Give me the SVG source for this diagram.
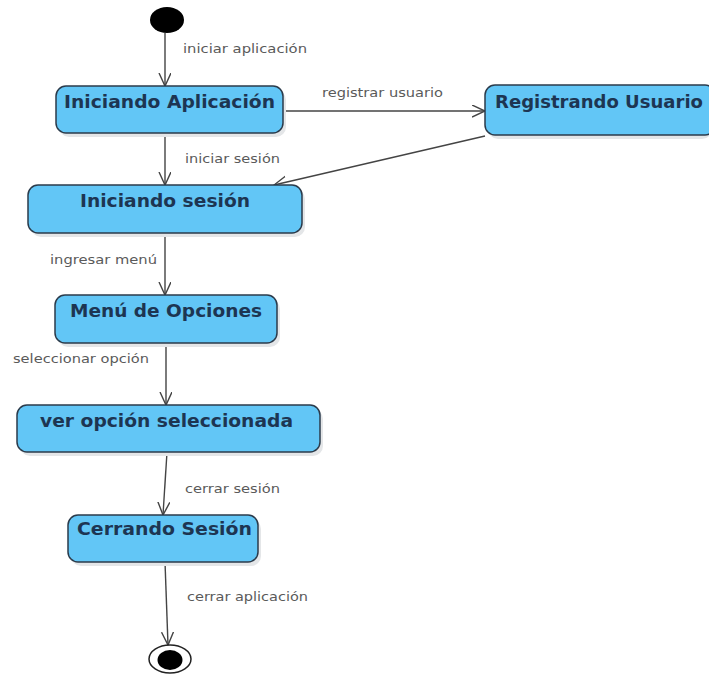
<svg xmlns="http://www.w3.org/2000/svg" width="709" height="674" viewBox="0 0 709 674">
<style>
.box{fill:#62c6f6;stroke:#2b3b4b;stroke-width:1.5}
.shadow{fill:#e4e6e8}
.name{font-family:"DejaVu Sans",sans-serif;font-weight:bold;font-size:18px;fill:#1d3552}
.lbl{font-family:"DejaVu Sans",sans-serif;font-size:11.5px;fill:#5a5a5a}
.edge{stroke:#444;stroke-width:1.4;fill:none;marker-end:url(#arr)}
</style>
<defs>
<marker id="arr" markerUnits="userSpaceOnUse" markerWidth="16" markerHeight="14" refX="13" refY="6" orient="auto">
<path d="M0,0 L13,6 L0,12" fill="none" stroke="#444" stroke-width="1.4"/>
</marker>
</defs>
<rect width="709" height="674" fill="#fff"/>
<g id="connectors">
<line class="edge" x1="165" y1="33" x2="165" y2="86"/>
<line class="edge" x1="283" y1="111" x2="485" y2="111"/>
<line class="edge" x1="165" y1="133" x2="165" y2="185"/>
<line class="edge" x1="485" y1="136" x2="274" y2="185"/>
<line class="edge" x1="165" y1="233" x2="165" y2="295"/>
<line class="edge" x1="166" y1="343" x2="166" y2="405"/>
<line class="edge" x1="167" y1="452" x2="163" y2="515"/>
<line class="edge" x1="165" y1="562" x2="168" y2="645"/>
<text class="lbl" x="183" y="53" textLength="124" lengthAdjust="spacingAndGlyphs">iniciar aplicación</text>
<text class="lbl" x="322" y="97" textLength="121" lengthAdjust="spacingAndGlyphs">registrar usuario</text>
<text class="lbl" x="185" y="163" textLength="95" lengthAdjust="spacingAndGlyphs">iniciar sesión</text>
<text class="lbl" x="50" y="264" textLength="107" lengthAdjust="spacingAndGlyphs">ingresar menú</text>
<text class="lbl" x="13" y="363" textLength="136" lengthAdjust="spacingAndGlyphs">seleccionar opción</text>
<text class="lbl" x="185" y="493" textLength="95" lengthAdjust="spacingAndGlyphs">cerrar sesión</text>
<text class="lbl" x="187" y="601" textLength="121" lengthAdjust="spacingAndGlyphs">cerrar aplicación</text>
</g>
<g id="start">
<ellipse cx="167" cy="20" rx="17" ry="13" fill="#000"/>
</g>
<g id="iniciando-aplicacion">
<rect class="shadow" x="59" y="90" width="227" height="47" rx="10"/>
<rect class="box" x="56" y="86" width="227" height="47" rx="10"/>
<text class="name" x="64" y="108" textLength="211" lengthAdjust="spacingAndGlyphs">Iniciando Aplicación</text>
</g>
<g id="registrando-usuario">
<rect class="shadow" x="488" y="89" width="224" height="50" rx="10"/>
<rect class="box" x="485" y="85" width="230" height="50" rx="10"/>
<text class="name" x="495" y="108" textLength="208" lengthAdjust="spacingAndGlyphs">Registrando Usuario</text>
</g>
<g id="iniciando-sesion">
<rect class="shadow" x="31" y="189" width="274" height="48" rx="10"/>
<rect class="box" x="28" y="185" width="274" height="48" rx="10"/>
<text class="name" x="80" y="207" textLength="170" lengthAdjust="spacingAndGlyphs">Iniciando sesión</text>
</g>
<g id="menu-opciones">
<rect class="shadow" x="58" y="299" width="222" height="48" rx="10"/>
<rect class="box" x="55" y="295" width="222" height="48" rx="10"/>
<text class="name" x="70" y="317" textLength="192" lengthAdjust="spacingAndGlyphs">Menú de Opciones</text>
</g>
<g id="ver-opcion">
<rect class="shadow" x="20" y="409" width="303" height="47" rx="10"/>
<rect class="box" x="17" y="405" width="303" height="47" rx="10"/>
<text class="name" x="40" y="427" textLength="253" lengthAdjust="spacingAndGlyphs">ver opción seleccionada</text>
</g>
<g id="cerrando-sesion">
<rect class="shadow" x="71" y="519" width="190" height="47" rx="10"/>
<rect class="box" x="68" y="515" width="190" height="47" rx="10"/>
<text class="name" x="77" y="535" textLength="175" lengthAdjust="spacingAndGlyphs">Cerrando Sesión</text>
</g>
<g id="end">
<ellipse cx="170" cy="659" rx="21" ry="14" fill="#fff" stroke="#222" stroke-width="1.5"/>
<ellipse cx="170" cy="660" rx="12.5" ry="10" fill="#000"/>
</g>
</svg>
